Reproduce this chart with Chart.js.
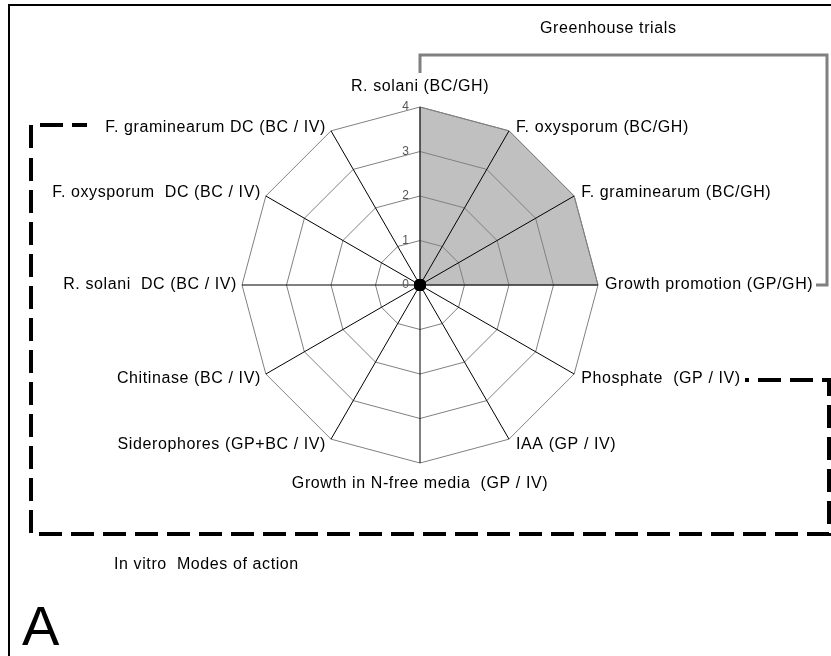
<!DOCTYPE html>
<html>
<head>
<meta charset="utf-8">
<script src="https://cdn.jsdelivr.net/npm/chart.js@4.4.1/dist/chart.umd.min.js"></script>
<style>
    body { margin: 0; background: #fff; }
    #wrap { position: relative; width: 831px; height: 656px; }
</style>
</head>
<body>
<div id="wrap"><canvas id="modesChart"></canvas></div>
<script>
// Axes, clockwise from the top
var categories = [
    "R. solani (BC/GH)",
    "F. oxysporum (BC/GH)",
    "F. graminearum (BC/GH)",
    "Growth promotion (GP/GH)",
    "Phosphate  (GP / IV)",
    "IAA (GP / IV)",
    "Growth in N-free media  (GP / IV)",
    "Siderophores (GP+BC / IV)",
    "Chitinase (BC / IV)",
    "R. solani  DC (BC / IV)",
    "F. oxysporum  DC (BC / IV)",
    "F. graminearum DC (BC / IV)"
];
var scores = [4, 4, 4, 4, 0, 0, 0, 0, 0, 0, 0, 0];
var tickValues = [0, 1, 2, 3, 4];

var groupTitles = ["Greenhouse trials", "In vitro  Modes of action"];
var panelLetter = "A";

var fontName = "'Liberation Sans', Arial, sans-serif";

// draws axis labels, tick numbers, brackets and captions
var decorPlugin = {
    id: 'decor',
    afterDraw: function (chart) {
        var ctx = chart.ctx;
        var scale = chart.scales.r;
        var r = scale.drawingArea;
        ctx.save();

        // frame (top and left edges only)
        ctx.strokeStyle = '#000';
        ctx.lineWidth = 2;
        ctx.beginPath();
        ctx.moveTo(831, 5);
        ctx.lineTo(9, 5);
        ctx.lineTo(9, 656);
        ctx.stroke();

        // tick numbers, left of the vertical axis
        ctx.fillStyle = '#555';
        ctx.font = '12px ' + fontName;
        ctx.textAlign = 'right';
        ctx.textBaseline = 'middle';
        tickValues.forEach(function (v) {
            var d = scale.getDistanceFromCenterForValue(v);
            ctx.fillText(String(v), scale.xCenter - 11, scale.yCenter - d);
        });

        // axis labels next to the outer vertices
        ctx.fillStyle = '#000';
        ctx.font = '16px ' + fontName;
        ctx.letterSpacing = '0.6px';
        categories.forEach(function (label, i) {
            var p = scale.getPointPosition(i, r);
            var dx = p.x - scale.xCenter;
            var dy = p.y - scale.yCenter;
            var x = p.x, y = p.y;
            if (Math.abs(dx) < 1) {
                ctx.textAlign = 'center';
                y = dy < 0 ? p.y - 20 : p.y + 21;
            } else {
                ctx.textAlign = dx > 0 ? 'left' : 'right';
                x = dx > 0 ? p.x + 7 : p.x - 5;
                if (dy < -1) y = p.y - 3;
                else if (dy > 1) y = p.y + 5;
            }
            ctx.fillText(label, x, y);
        });

        // greenhouse bracket
        ctx.strokeStyle = '#808080';
        ctx.lineWidth = 3;
        ctx.beginPath();
        ctx.moveTo(scale.xCenter, 73);
        ctx.lineTo(scale.xCenter, 55);
        ctx.lineTo(827, 55);
        ctx.lineTo(827, scale.yCenter);
        ctx.lineTo(816, scale.yCenter);
        ctx.stroke();

        // in vitro bracket, dashed
        ctx.strokeStyle = '#000';
        ctx.lineWidth = 4;
        ctx.setLineDash([23, 9]);
        ctx.beginPath();
        ctx.moveTo(31, 148);
        ctx.lineTo(31, 125);
        ctx.lineTo(87, 125);
        ctx.stroke();
        ctx.beginPath();
        ctx.moveTo(31, 158);
        ctx.lineTo(31, 534);
        ctx.lineTo(829, 534);
        ctx.lineTo(829, 380);
        ctx.lineTo(745, 380);
        ctx.stroke();
        ctx.setLineDash([]);

        // captions
        ctx.fillStyle = '#000';
        ctx.font = '16px ' + fontName;
        ctx.textAlign = 'left';
        ctx.textBaseline = 'middle';
        ctx.fillText(groupTitles[0], 540, 29);
        ctx.fillText(groupTitles[1], 114, 565);
        ctx.letterSpacing = '0px';
        ctx.font = '56px ' + fontName;
        ctx.textBaseline = 'alphabetic';
        ctx.fillText(panelLetter, 22, 645);

        ctx.restore();
    }
};

var ctx1 = document.getElementById('modesChart').getContext('2d');
var modesChart = new Chart(ctx1, {
    type: 'radar',
    data: {
        labels: categories,
        datasets: [{
            data: scores,
            backgroundColor: '#c0c0c0',
            borderColor: '#808080',
            borderWidth: 1,
            fill: true,
            pointRadius: scores.map(function (v) { return v === 0 ? 6 : 0; }),
            pointBackgroundColor: '#000',
            pointBorderColor: '#000',
            pointBorderWidth: 0
        }]
    },
    options: {
        responsive: true,
        maintainAspectRatio: false,
        animation: false,
        layout: {
            padding: { left: 10, right: 0, top: 107, bottom: 193 }
        },
        plugins: {
            legend: { display: false },
            tooltip: { enabled: false }
        },
        scales: {
            r: {
                min: 0,
                max: 4,
                ticks: { stepSize: 1, display: false },
                pointLabels: { display: false },
                grid: { color: '#808080', lineWidth: 1, z: 1 },
                angleLines: { color: '#000', lineWidth: 1 }
            }
        }
    },
    plugins: [decorPlugin]
});
</script>
</body>
</html>
